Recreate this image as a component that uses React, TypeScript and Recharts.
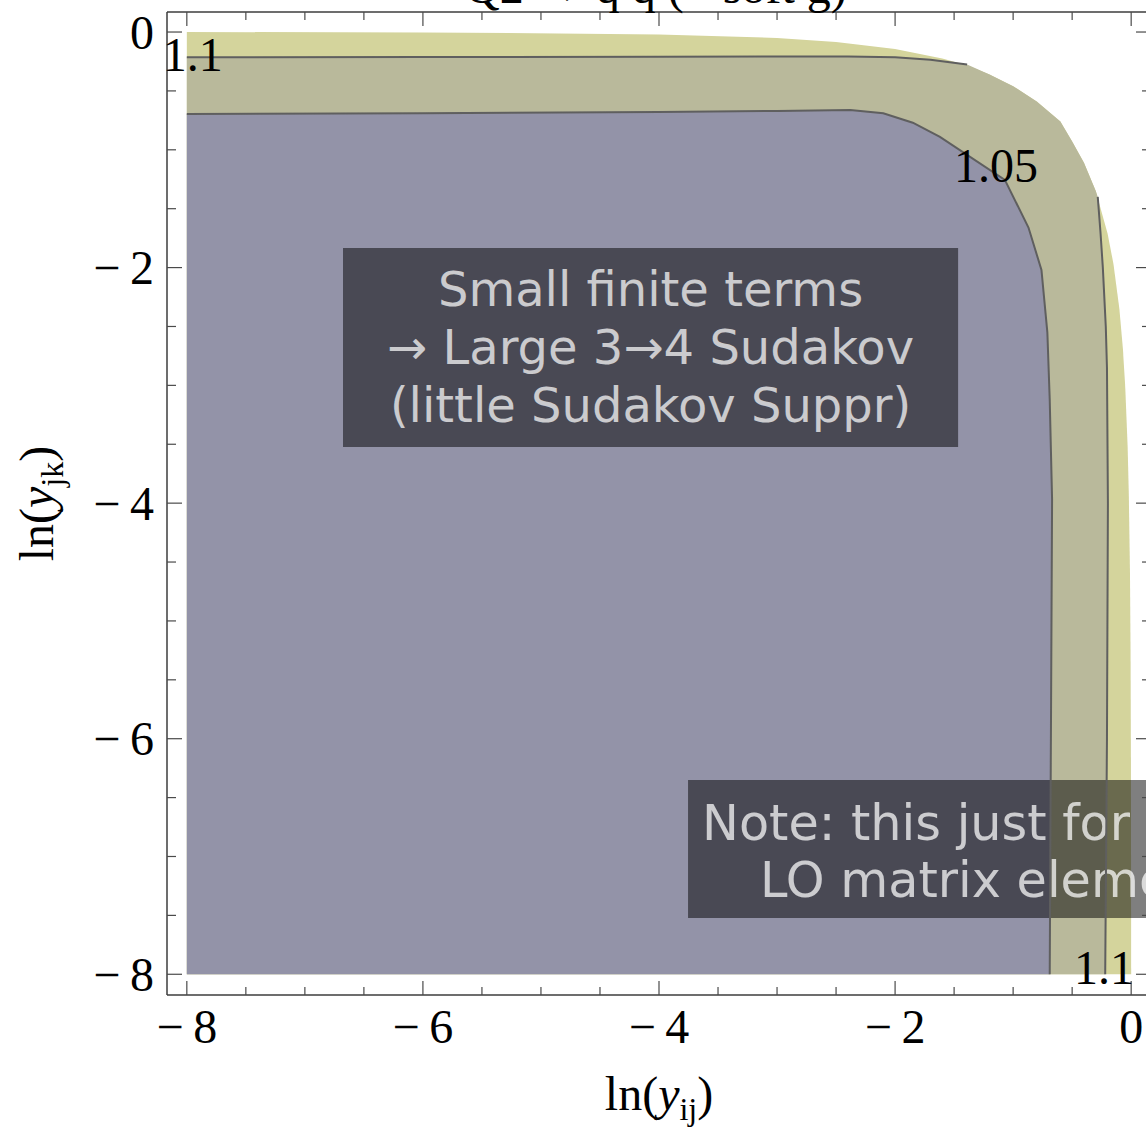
import React from 'react';
import { ComposedChart, Area, Line, XAxis, YAxis, ReferenceArea, ReferenceDot } from 'recharts';

// outer edge of the allowed region (ln y_ij, ln y_jk)
const EDGE_X = [-8, -6, -4, -3, -2.5, -2, -1.6, -1.4, -1.2, -1, -0.8, -0.6, -0.5, -0.4, -0.3, -0.2, -0.15, -0.1, -0.07, -0.05, -0.03, -0.02, -0.01, -0.005, -0.002, 0];
const EDGE_Y = [0, -0.003, -0.02, -0.05, -0.085, -0.145, -0.225, -0.28, -0.36, -0.46, -0.59, -0.76, -0.93, -1.11, -1.35, -1.71, -1.97, -2.35, -2.69, -3.02, -3.52, -3.92, -4.6, -5.3, -6.2, -8];

// contour 1.1 (two pieces: along the top and down the right side)
const C11_TOP_X = [-8, -6, -4, -3, -2.4, -2, -1.7, -1.39];
const C11_TOP_Y = [-0.215, -0.213, -0.21, -0.207, -0.207, -0.215, -0.235, -0.275];
const C11_RIGHT_X = [-0.283, -0.26, -0.24, -0.215, -0.205, -0.197, -0.205, -0.22];
const C11_RIGHT_Y = [-1.4, -1.7, -2.0, -2.5, -2.85, -4, -6, -8];

// contour 1.05
const C105_X = [-8, -6, -4, -3, -2.38, -2.1, -1.85, -1.62, -1.07, -0.87, -0.76, -0.71, -0.69, -0.67, -0.68, -0.69];
const C105_Y = [-0.695, -0.69, -0.68, -0.67, -0.662, -0.69, -0.77, -0.89, -1.255, -1.66, -2.02, -2.55, -3.12, -3.97, -6, -8];

const TICKS = [-8, -7.5, -7, -6.5, -6, -5.5, -5, -4.5, -4, -3.5, -3, -2.5, -2, -1.5, -1, -0.5, 0];
const MAJOR = [-8, -6, -4, -2, 0];

const BOX1_LINES = ['Small finite terms', '\u2192 Large 3\u21924 Sudakov', '(little Sudakov Suppr)'];
const BOX2_LINES = ['Note: this just for the', 'LO matrix elements'];

const FLOOR = -8;
const X_DOMAIN = [-8.168, 0.168];
const Y_DOMAIN = [-8.176, 0.17];

const SERIF = "'Liberation Serif', 'Times New Roman', serif";
const SANS = "'DejaVu Sans', Verdana, sans-serif";
const TICK_COLOR = '#4a4a4a';
const FRAME = { stroke: '#3c3c3c', strokeWidth: 1.5 };
const CONTOUR = '#5f5f5f';

const pts = (xs: number[], ys: number[]) => xs.map((x, i) => ({ x, y: ys[i], band: [FLOOR, ys[i]] }));

const edgeData = pts(EDGE_X, EDGE_Y);
const c11Top = pts(C11_TOP_X, C11_TOP_Y);
const c11Right = pts(C11_RIGHT_X, C11_RIGHT_Y);
const c105 = pts(C105_X, C105_Y);
const lastTop = C11_TOP_X[C11_TOP_X.length - 1];
const midBand = [...c11Top, ...edgeData.filter((p) => p.x > lastTop && p.x < C11_RIGHT_X[0]), ...c11Right];

const fmt = (v: number) => (v < 0 ? `\u2212\u2009${-v}` : `${v}`);

function BottomTick({ x, y, payload }: any) {
  const major = MAJOR.includes(payload.value);
  return (
    <g>
      <line x1={x} y1={y} x2={x} y2={y - (major ? 14 : 8)} stroke={TICK_COLOR} strokeWidth={1.2} />
      {major && (
        <text x={x} y={y + 48} textAnchor="middle" fontFamily={SERIF} fontSize={48} fill="#000">
          {fmt(payload.value)}
        </text>
      )}
    </g>
  );
}

function TopTick({ x, y, payload }: any) {
  const major = MAJOR.includes(payload.value);
  return <line x1={x} y1={y} x2={x} y2={y + (major ? 14 : 8)} stroke={TICK_COLOR} strokeWidth={1.2} />;
}

function LeftTick({ x, y, payload }: any) {
  const major = MAJOR.includes(payload.value);
  return (
    <g>
      <line x1={x} y1={y} x2={x + (major ? 15 : 9)} y2={y} stroke={TICK_COLOR} strokeWidth={1.2} />
      {major && (
        <text x={x - 13} y={y + 16.5} textAnchor="end" fontFamily={SERIF} fontSize={48} fill="#000">
          {fmt(payload.value)}
        </text>
      )}
    </g>
  );
}

function RightTick({ x, y, payload }: any) {
  const major = MAJOR.includes(payload.value);
  return <line x1={x} y1={y} x2={x - (major ? 15 : 9)} y2={y} stroke={TICK_COLOR} strokeWidth={1.2} />;
}

const xTitle = (props: any) => {
  const vb = props.viewBox || { x: 167, y: 995, width: 984 };
  return (
    <text x={vb.x + vb.width / 2} y={vb.y + 115} textAnchor="middle" fontFamily={SERIF} fontSize={48} fill="#000">
      ln(<tspan fontStyle="italic">y</tspan>
      <tspan fontSize={32} dy={10}>ij</tspan>
      <tspan dy={-10}>)</tspan>
    </text>
  );
};

const yTitle = (props: any) => {
  const vb = props.viewBox || { x: 0, y: 12, height: 983 };
  const cx = 53;
  const cy = vb.y + vb.height / 2;
  return (
    <text x={cx} y={cy} transform={`rotate(-90, ${cx}, ${cy})`} textAnchor="middle" fontFamily={SERIF} fontSize={48} fill="#000">
      ln(<tspan fontStyle="italic">y</tspan>
      <tspan fontSize={32} dy={10}>jk</tspan>
      <tspan dy={-10}>)</tspan>
    </text>
  );
};

// title sits mostly above the top edge of the picture, as in the source
const topTitle = () => (
  <text x={465} y={3} textAnchor="start" fontFamily={SERIF} fontSize={48} fill="#000">
    Q2 {'\u2192'} q q{'\u0304'} (+ soft g)
  </text>
);

const centeredBox = (lines: string[]) => (props: any) => {
  const { x, y, width } = props.viewBox;
  return (
    <g>
      {lines.map((t, i) => (
        <text key={i} x={x + width / 2} y={y + 58 + i * 58} textAnchor="middle" fontFamily={SANS} fontSize={48} fill="#fff" fillOpacity={0.72}>
          {t}
        </text>
      ))}
    </g>
  );
};

const INDENTS = [14, 72];
const leftBox = (lines: string[]) => (props: any) => {
  const { x, y } = props.viewBox;
  return (
    <g>
      {lines.map((t, i) => (
        <text key={i} x={x + INDENTS[i]} y={y + 60 + i * 57} textAnchor="start" fontFamily={SANS} fontSize={49.3} fill="#fff" fillOpacity={0.72}>
          {t}
        </text>
      ))}
    </g>
  );
};

const contourLabel = (value: string) => ({ value, position: 'center' as const, fill: '#000', fontSize: 48, fontFamily: SERIF });

export default function App() {
  return (
    <div style={{ position: 'absolute', left: 0, top: 0, width: 1146, height: 1129, overflow: 'hidden', background: '#fff' }}>
      <ComposedChart width={1200} height={1129} margin={{ top: 0, right: 0, bottom: 0, left: 0 }}>
        <XAxis
          dataKey="x"
          type="number"
          domain={X_DOMAIN}
          allowDataOverflow
          ticks={TICKS}
          interval={0}
          height={134}
          tickSize={0}
          tickMargin={0}
          tickLine={false}
          axisLine={FRAME}
          tick={<BottomTick />}
          label={xTitle}
        />
        <XAxis
          xAxisId="top"
          orientation="top"
          dataKey="x"
          type="number"
          domain={X_DOMAIN}
          allowDataOverflow
          ticks={TICKS}
          interval={0}
          height={12}
          tickSize={0}
          tickMargin={0}
          tickLine={false}
          axisLine={FRAME}
          tick={<TopTick />}
          label={topTitle}
        />
        <YAxis
          type="number"
          domain={Y_DOMAIN}
          allowDataOverflow
          ticks={TICKS}
          interval={0}
          width={167}
          tickSize={0}
          tickMargin={0}
          tickLine={false}
          axisLine={FRAME}
          tick={<LeftTick />}
          label={yTitle}
        />
        <YAxis
          yAxisId="right"
          orientation="right"
          type="number"
          domain={Y_DOMAIN}
          allowDataOverflow
          ticks={TICKS}
          interval={0}
          width={49}
          tickSize={0}
          tickMargin={0}
          tickLine={false}
          axisLine={FRAME}
          tick={<RightTick />}
        />

        <Area data={edgeData} dataKey="band" type="linear" fill="#d4d49c" fillOpacity={1} stroke="none" isAnimationActive={false} activeDot={false} />
        <Area data={midBand} dataKey="band" type="linear" fill="#b9b99b" fillOpacity={1} stroke="none" isAnimationActive={false} activeDot={false} />
        <Area data={c105} dataKey="band" type="linear" fill="#9393a8" fillOpacity={1} stroke="none" isAnimationActive={false} activeDot={false} />

        <Line data={c105} dataKey="y" type="linear" stroke={CONTOUR} strokeWidth={2} dot={false} activeDot={false} isAnimationActive={false} />
        <Line data={c11Top} dataKey="y" type="linear" stroke={CONTOUR} strokeWidth={2} dot={false} activeDot={false} isAnimationActive={false} />
        <Line data={c11Right} dataKey="y" type="linear" stroke={CONTOUR} strokeWidth={2} dot={false} activeDot={false} isAnimationActive={false} />

        <ReferenceArea x1={-6.677} x2={-1.466} y1={-1.834} y2={-3.524} fill="#000" fillOpacity={0.5} stroke="none" ifOverflow="visible" label={centeredBox(BOX1_LINES)} />
        <ReferenceArea x1={-3.754} x2={0.168} y1={-6.351} y2={-7.523} fill="#000" fillOpacity={0.5} stroke="none" ifOverflow="visible" label={leftBox(BOX2_LINES)} />

        <ReferenceDot x={-7.95} y={-0.19} r={0} fill="none" stroke="none" ifOverflow="visible" label={contourLabel('1.1')} />
        <ReferenceDot x={-1.145} y={-1.129} r={0} fill="none" stroke="none" ifOverflow="visible" label={contourLabel('1.05')} />
        <ReferenceDot x={-0.23} y={-7.936} r={0} fill="none" stroke="none" ifOverflow="visible" label={contourLabel('1.1')} />
      </ComposedChart>
    </div>
  );
}
